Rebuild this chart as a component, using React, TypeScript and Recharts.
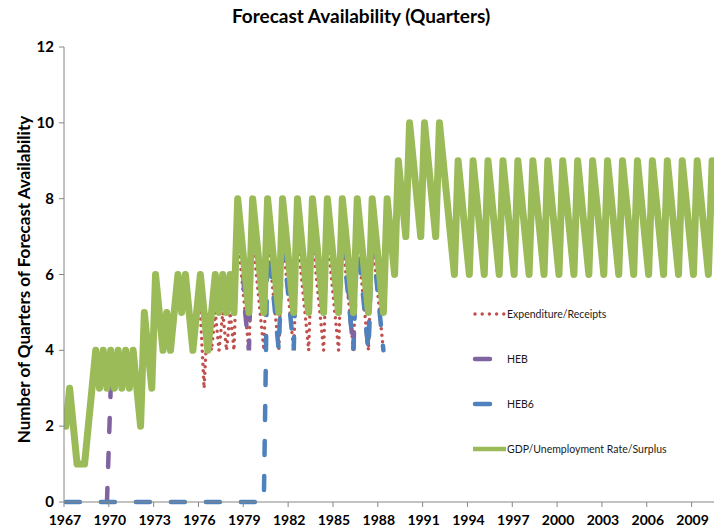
import React from "react";
import { LineChart, Line, XAxis, YAxis, Legend } from "recharts";

const FIRST_YEAR = 1967;
const LAST_YEAR_END = 2010.5;
const FONT = "Lato, 'Open Sans', sans-serif";

const yearTicks = [1967, 1970, 1973, 1976, 1979, 1982, 1985, 1988, 1991, 1994, 1997, 2000, 2003, 2006, 2009];
const quarterTicks = [0, 2, 4, 6, 8, 10, 12];

// one row per year, Q1..Q4
const gdpSurplus = [
  2, 3, 2, 1, // 1967
  1, 1, 2, 3, // 1968
  4, 3, 4, 3, // 1969
  4, 3, 4, 3, // 1970
  4, 3, 4, 3, // 1971
  2, 5, 4, 3, // 1972
  6, 5, 4, 5, // 1973
  4, 5, 6, 5, // 1974
  6, 5, 4, 5, // 1975
  6, 5, 4, 5, // 1976
  6, 5, 6, 5, // 1977
  6, 5, 8, 7, // 1978
  6, 5, 8, 7, // 1979
  6, 5, 8, 7, // 1980
  6, 5, 8, 7, // 1981
  6, 5, 8, 7, // 1982
  6, 5, 8, 7, // 1983
  6, 5, 8, 7, // 1984
  6, 5, 8, 7, // 1985
  6, 5, 8, 7, // 1986
  6, 5, 8, 7, // 1987
  6, 5, 8, 7, // 1988
  6, 9, 8, 7, // 1989
  10, 9, 8, 7, // 1990
  10, 9, 8, 7, // 1991
  10, 9, 8, 7, // 1992
  6, 9, 8, 7, // 1993
  6, 9, 8, 7, // 1994
  6, 9, 8, 7, // 1995
  6, 9, 8, 7, // 1996
  6, 9, 8, 7, // 1997
  6, 9, 8, 7, // 1998
  6, 9, 8, 7, // 1999
  6, 9, 8, 7, // 2000
  6, 9, 8, 7, // 2001
  6, 9, 8, 7, // 2002
  6, 9, 8, 7, // 2003
  6, 9, 8, 7, // 2004
  6, 9, 8, 7, // 2005
  6, 9, 8, 7, // 2006
  6, 9, 8, 7, // 2007
  6, 9, 8, 7, // 2008
  6, 9, 8, 7, // 2009
  6, 9, // 2010
];

const expenditureFrom = 1976;
const expenditureReceipts = [
  5, 3, 5, 4, // 1976
  5, 4, 5, 4, // 1977
  5, 4, 7, 6, // 1978
  5, 4, 7, 6, // 1979
  5, 4, 7, 6, // 1980
  5, 4, 7, 6, // 1981
  5, 4, 7, 6, // 1982
  5, 4, 7, 6, // 1983
  5, 4, 7, 6, // 1984
  5, 4, 7, 6, // 1985
  5, 4, 7, 6, // 1986
  5, 4, 7, 6, // 1987
  5, 4, // 1988
];

const hebFrom = 1969;
const heb = [
  null, null, null, 0, // 1969
  3, 3, 4, 3, // 1970
  4, 3, 4, 3, // 1971
  2, 5, 4, 3, // 1972
  6, 5, 4, 5, // 1973
  4, 5, 6, 5, // 1974
  6, 5, 4, 5, // 1975
  6, 5, 4, 5, // 1976
  6, 5, 6, 5, // 1977
  6, 5, 8, 7, // 1978
  5, 4, 8, 7, // 1979
  6, 5, 8, 7, // 1980
  6, 5, 8, 7, // 1981
  6, 5, 8, 7, // 1982
  6, 5, 8, 7, // 1983
  6, 5, 8, 7, // 1984
  6, 5, 8, 7, // 1985
  5, 4, 8, 7, // 1986
  5, 4, 8, 7, // 1987
  6, 5, // 1988
];

const heb6From = 1967;
const heb6 = [
  0, 0, 0, 0, // 1967
  0, 0, 0, 0, // 1968
  0, 0, 0, 0, // 1969
  0, 0, 0, 0, // 1970
  0, 0, 0, 0, // 1971
  0, 0, 0, 0, // 1972
  0, 0, 0, 0, // 1973
  0, 0, 0, 0, // 1974
  0, 0, 0, 0, // 1975
  0, 0, 0, 0, // 1976
  0, 0, 0, 0, // 1977
  0, 0, 0, 0, // 1978
  0, 0, 0, 0, // 1979
  0, 0, 7, 6, // 1980
  5, 4, 7, 6, // 1981
  5, 4, 8, 7, // 1982
  6, 5, 8, 7, // 1983
  6, 5, 8, 7, // 1984
  6, 5, 7, 6, // 1985
  5, 4, 7, 6, // 1986
  5, 4, 7, 6, // 1987
  5, 4, // 1988
];

function valueAt(values: (number | null)[], from: number, i: number) {
  const v = values[i - (from - FIRST_YEAR) * 4];
  return v === undefined ? null : v;
}

// each quarter sits in the middle of its slot on the year axis
const data = gdpSurplus.map((gdp, i) => ({
  t: FIRST_YEAR + (i + 0.5) / 4,
  gdp,
  exp: valueAt(expenditureReceipts, expenditureFrom, i),
  heb: valueAt(heb, hebFrom, i),
  heb6: valueAt(heb6, heb6From, i),
}));

const legendOrder = ["exp", "heb", "heb6", "gdp"];

const seriesStyle: Record<string, { color: string; width: number; dash?: string }> = {
  exp: { color: "#C0504D", width: 3.5, dash: "0 6.5" },
  heb: { color: "#8064A2", width: 4.5, dash: "14 21" },
  heb6: { color: "#4F81BD", width: 4.5, dash: "14 21" },
  gdp: { color: "#9BBB59", width: 7 },
};

function YearTick({ x, y, payload }: any) {
  return (
    <text x={x + 1} y={y} dy={16} textAnchor="middle" fontFamily={FONT} fontWeight={700} fontSize={14} fill="#000">
      {payload.value}
    </text>
  );
}

function QuarterTick({ x, y, payload }: any) {
  return (
    <text x={x - 3} y={y} dy={5} textAnchor="end" fontFamily={FONT} fontWeight={700} fontSize={15} fill="#000">
      {payload.value}
    </text>
  );
}

function AxisTitle({ viewBox }: any) {
  const cy = viewBox.y + viewBox.height / 2 + 5;
  return (
    <text
      x={23}
      y={cy}
      transform={`rotate(-90, 23, ${cy})`}
      textAnchor="middle"
      dominantBaseline="central"
      fontFamily={FONT}
      fontWeight={700}
      fontSize={17}
      fill="#000"
    >
      Number of Quarters of Forecast Availability
    </text>
  );
}

function SeriesLegend({ payload }: any) {
  const items = legendOrder
    .map((key) => (payload || []).find((p: any) => p.dataKey === key))
    .filter(Boolean);
  return (
    <svg width={245} height={170} style={{ display: "block" }}>
      {items.map((p: any, k: number) => {
        const s = seriesStyle[p.dataKey];
        const y = 18 + k * 45;
        const isGdp = p.dataKey === "gdp";
        const isExp = p.dataKey === "exp";
        return (
          <g key={p.dataKey}>
            <line
              x1={isGdp ? 3 : 5}
              x2={isGdp ? 36 : isExp ? 34 : 20}
              y1={y}
              y2={y}
              stroke={s.color}
              strokeWidth={isGdp ? 4.5 : isExp ? 3.5 : 4.5}
              strokeDasharray={isExp ? "0 7.2" : undefined}
              strokeLinecap={isGdp ? "butt" : "round"}
            />
            <text x={37} y={y} dy={4} fontFamily={FONT} fontSize={10.5} fill="#1a1a1a">
              {p.value}
            </text>
          </g>
        );
      })}
    </svg>
  );
}

export default function App() {
  return (
    <div style={{ position: "relative", width: 715, height: 528, background: "#fff" }}>
      <style>{`body{margin:0}`}</style>
      <div
        style={{
          position: "absolute",
          left: 0,
          width: 722,
          top: 4,
          textAlign: "center",
          fontFamily: FONT,
          fontWeight: 700,
          fontSize: 19,
          color: "#000",
          zIndex: 2,
        }}
      >
        Forecast Availability (Quarters)
      </div>
      <LineChart width={715} height={528} data={data} margin={{ top: 47, right: 1, bottom: 0, left: 0 }}>
        <XAxis
          dataKey="t"
          type="number"
          domain={[FIRST_YEAR, LAST_YEAR_END]}
          ticks={yearTicks}
          interval={0}
          allowDataOverflow
          height={26}
          tickSize={5}
          axisLine={{ stroke: "#868686" }}
          tickLine={{ stroke: "#868686" }}
          tick={<YearTick />}
        />
        <YAxis
          type="number"
          domain={[0, 12]}
          ticks={quarterTicks}
          interval={0}
          width={64}
          tickSize={5}
          axisLine={{ stroke: "#868686" }}
          tickLine={{ stroke: "#868686" }}
          tick={<QuarterTick />}
          label={<AxisTitle />}
        />
        <Legend
          layout="vertical"
          align="center"
          verticalAlign="middle"
          wrapperStyle={{ left: 470, top: 296, width: 245, height: 170 }}
          content={<SeriesLegend />}
        />
        <Line
          dataKey="exp"
          name="Expenditure/Receipts"
          type="linear"
          stroke={seriesStyle.exp.color}
          strokeWidth={seriesStyle.exp.width}
          strokeDasharray={seriesStyle.exp.dash}
          strokeLinecap="round"
          dot={false}
          activeDot={false}
          isAnimationActive={false}
        />
        <Line
          dataKey="heb"
          name="HEB"
          type="linear"
          stroke={seriesStyle.heb.color}
          strokeWidth={seriesStyle.heb.width}
          strokeDasharray={seriesStyle.heb.dash}
          strokeLinecap="round"
          dot={false}
          activeDot={false}
          isAnimationActive={false}
        />
        <Line
          dataKey="heb6"
          name="HEB6"
          type="linear"
          stroke={seriesStyle.heb6.color}
          strokeWidth={seriesStyle.heb6.width}
          strokeDasharray={seriesStyle.heb6.dash}
          strokeLinecap="round"
          dot={false}
          activeDot={false}
          isAnimationActive={false}
        />
        <Line
          dataKey="gdp"
          name="GDP/Unemployment Rate/Surplus"
          type="linear"
          stroke={seriesStyle.gdp.color}
          strokeWidth={seriesStyle.gdp.width}
          strokeLinejoin="round"
          strokeLinecap="round"
          dot={false}
          activeDot={false}
          isAnimationActive={false}
        />
      </LineChart>
    </div>
  );
}
